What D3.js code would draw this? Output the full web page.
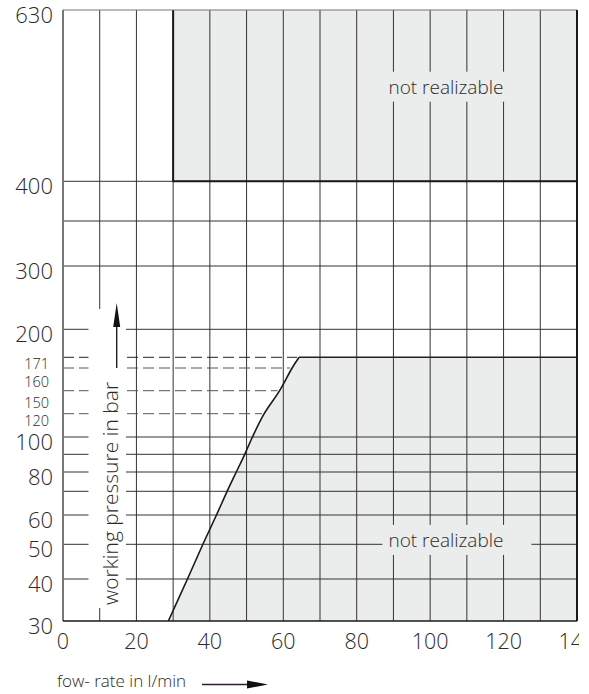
<!DOCTYPE html>
<html><head><meta charset="utf-8">
<script src="https://cdn.jsdelivr.net/npm/d3@7"></script>
<style>
html,body{margin:0;padding:0;background:#fff;}
svg{display:block;}
text{font-family:"Open Sans","DejaVu Sans",sans-serif;fill:#2a2a2a;}
</style></head>
<body>
<script>
// ---- data ----
const flowTicks = [0, 20, 40, 60, 80, 100, 120, 140];
const flowGrid = [10, 20, 30, 40, 50, 60, 70, 80, 90, 100, 110, 120, 130];
const pressureTicks = [30, 40, 50, 60, 80, 100, 200, 300, 400, 630];
const pressureMinorTicks = [120, 150, 160, 171];
const pressureGrid = [40, 50, 60, 70, 80, 90, 100, 200, 300, 350, 400];
// limit curve (flow l/min vs working pressure bar)
const curveFlow = [28.7, 33.9, 38.1, 41.8, 44.7, 47.2, 49.5, 51.6, 54.8, 59.0, 62.4, 64.3];
const curvePressure = [30, 40, 50, 60, 70, 80, 90, 100, 120, 150, 160, 171];
const flowMax = [140];
const upperRegionFlow = [30, 140];
const upperRegionPressure = [400, 630];
const regionLabels = ["not realizable", "not realizable"];
const regionLabelFlow = [104.3, 104.3];
const regionLabelPressure = [527, 51.5];

// ---- layout ----
const W = 589, H = 694;
const svg = d3.select("body").append("svg").attr("width", W).attr("height", H);

const x = d3.scaleLinear().domain([0, 140]).range([63, 577]);
// non-uniform pressure axis, drawn piecewise
const y = d3.scaleLinear()
  .domain([30, 40, 50, 60, 70, 80, 90, 100, 120, 150, 160, 171, 200, 300, 350, 400, 630])
  .range([621, 579, 544.3, 515, 491.3, 472, 454.3, 437, 413.7, 390.7, 368, 357.3, 329.3, 266, 221, 181.3, 10]);

const fillGray = "#ebecec";
const lineCol = "#333";
const pMin = 30, pMax = 630, fMin = 0, fMaxV = flowMax[0];

// gray regions
svg.append("rect")
  .attr("x", x(upperRegionFlow[0])).attr("y", y(upperRegionPressure[1]))
  .attr("width", x(upperRegionFlow[1]) - x(upperRegionFlow[0]))
  .attr("height", y(upperRegionPressure[0]) - y(upperRegionPressure[1]))
  .attr("fill", fillGray);

const curvePts = curveFlow.map((f, i) => [f, curvePressure[i]]);
const curveGen = d3.line().x(d => x(d[0])).y(d => y(d[1])).curve(d3.curveCatmullRom.alpha(0.5));
const lowerPath = curveGen(curvePts) +
  `L${x(fMaxV)},${y(curvePressure[curvePressure.length - 1])}L${x(fMaxV)},${y(pMin)}Z`;
svg.append("path").attr("d", lowerPath).attr("fill", fillGray);

// grid
const grid = svg.append("g").attr("stroke", lineCol).attr("stroke-width", 1).attr("fill", "none");
grid.selectAll("line.v").data(flowGrid).join("line")
  .attr("x1", d => x(d)).attr("x2", d => x(d))
  .attr("y1", y(pMax)).attr("y2", y(pMin));
grid.selectAll("line.h").data(pressureGrid).join("line")
  .attr("x1", x(fMin)).attr("x2", x(fMaxV))
  .attr("y1", d => y(d)).attr("y2", d => y(d));

// curve x lookup for dashed lines
const curveAt = p => curveFlow[curvePressure.indexOf(p)];
svg.append("g").selectAll("line").data(pressureMinorTicks).join("line")
  .attr("x1", x(fMin)).attr("x2", d => x(curveAt(d)) - 2)
  .attr("y1", d => y(d)).attr("y2", d => y(d))
  .attr("stroke", (d, i) => i === pressureMinorTicks.length - 1 ? "#222" : "#555")
  .attr("stroke-width", 1)
  .attr("stroke-dasharray", "11,5");

// plateau line
const topP = curvePressure[curvePressure.length - 1];
svg.append("line")
  .attr("x1", x(curveAt(topP))).attr("x2", x(fMaxV))
  .attr("y1", y(topP)).attr("y2", y(topP))
  .attr("stroke", "#222").attr("stroke-width", 1.5);

// limit curve
svg.append("path")
  .attr("d", curveGen(curvePts))
  .attr("fill", "none").attr("stroke", "#1a1a1a").attr("stroke-width", 1.6);

// upper region border (left and bottom)
svg.append("path")
  .attr("d", `M${x(upperRegionFlow[0])},${y(upperRegionPressure[1])}V${y(upperRegionPressure[0])}H${x(upperRegionFlow[1])}`)
  .attr("fill", "none").attr("stroke", "#1a1a1a").attr("stroke-width", 2);

// frame
svg.append("line").attr("x1", x(fMin)).attr("x2", x(fMaxV)).attr("y1", y(pMax)).attr("y2", y(pMax))
  .attr("stroke", "#777").attr("stroke-width", 1.2);
svg.append("line").attr("x1", x(fMin)).attr("x2", x(fMin)).attr("y1", y(pMax)).attr("y2", y(pMin))
  .attr("stroke", "#777").attr("stroke-width", 2);
svg.append("line").attr("x1", x(fMaxV)).attr("x2", x(fMaxV)).attr("y1", y(pMax)).attr("y2", y(pMin))
  .attr("stroke", "#1a1a1a").attr("stroke-width", 2);
svg.append("line").attr("x1", x(fMin)).attr("x2", x(fMaxV)).attr("y1", y(pMin)).attr("y2", y(pMin))
  .attr("stroke", "#1a1a1a").attr("stroke-width", 1.6);

// white box behind the y title
svg.append("rect").attr("x", 88.5).attr("y", 309).attr("width", 37.5).attr("height", 299).attr("fill", "#fff");

// region labels with gray backing
regionLabels.forEach((t, i) => {
  const g = svg.append("g");
  const txt = g.append("text")
    .attr("x", x(regionLabelFlow[i])).attr("y", y(regionLabelPressure[i]))
    .attr("text-anchor", "middle").attr("dominant-baseline", "central")
    .attr("font-size", 19).attr("font-weight", 300).attr("fill", "#2a2a2a")
    .text(t);
  const bb = txt.node().getBBox();
  g.insert("rect", "text")
    .attr("x", bb.x - 6).attr("y", bb.y - 2)
    .attr("width", bb.width + (i === 1 ? 34 : 12)).attr("height", bb.height + 4)
    .attr("fill", fillGray);
});

// y tick labels
svg.append("g").selectAll("text").data(pressureTicks).join("text")
  .attr("x", 53).attr("y", d => y(d) + 4)
  .attr("text-anchor", "end").attr("dominant-baseline", "central")
  .attr("font-size", 22).attr("font-weight", 300)
  .text(d => d);
const minorNudge = {171: 6, 160: 13, 150: 12, 120: 7};
svg.append("g").selectAll("text").data(pressureMinorTicks).join("text")
  .attr("x", 49).attr("y", d => y(d) + minorNudge[d])
  .attr("text-anchor", "end").attr("dominant-baseline", "central")
  .attr("font-size", 14.5).attr("font-weight", 300)
  .text(d => d);

// x tick labels (clipped at the right like the original)
svg.append("clipPath").attr("id", "clipx").append("rect").attr("x", 0).attr("y", 600).attr("width", 579).attr("height", 80);
svg.append("g").attr("clip-path", "url(#clipx)").selectAll("text").data(flowTicks).join("text")
  .attr("x", d => x(d)).attr("y", 640)
  .attr("text-anchor", "middle").attr("dominant-baseline", "central")
  .attr("font-size", 21.5).attr("font-weight", 300)
  .text(d => d);

// y title + arrow
svg.append("text")
  .attr("transform", "translate(118,605) rotate(-90)")
  .attr("font-size", 21).attr("font-weight", 300)
  .text("working pressure in bar");
svg.append("line").attr("x1", 116.7).attr("x2", 116.7).attr("y1", 368).attr("y2", 320)
  .attr("stroke", "#111").attr("stroke-width", 1.3);
svg.append("path").attr("d", "M116.7,303 L120.2,327 L113.2,327 Z").attr("fill", "#111");

// x title + arrow
svg.append("text").attr("x", 57).attr("y", 686.5)
  .attr("font-size", 17).attr("font-weight", 300)
  .text("fow- rate in l/min");
svg.append("line").attr("x1", 202).attr("x2", 252).attr("y1", 684.5).attr("y2", 684.5)
  .attr("stroke", "#2e1a3a").attr("stroke-width", 1.3);
svg.append("path").attr("d", "M268,684.5 L247,680.5 L247,688.5 Z").attr("fill", "#111");
</script>
</body></html>
